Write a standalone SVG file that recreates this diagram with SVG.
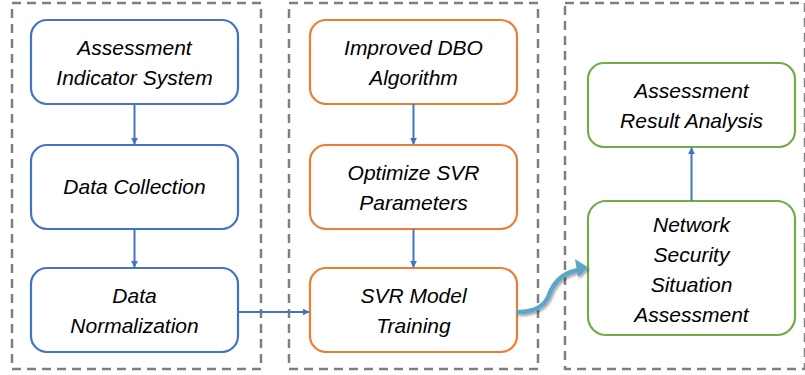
<svg xmlns="http://www.w3.org/2000/svg" width="805" height="375" viewBox="0 0 805 375">
  <style>
    .frame { fill: none; stroke: #7f7f7f; stroke-width: 2.5; stroke-dasharray: 9 6; }
    .node rect { fill: #ffffff; stroke-width: 2.2; }
    .blue rect { stroke: #4472c4; }
    .orange rect { stroke: #ed7d31; }
    .green rect { stroke: #70ad47; }
    .node text { font-family: "Liberation Sans", Arial, sans-serif; font-style: italic; font-size: 21px; fill: #000000; text-anchor: middle; }
    .link { fill: none; stroke: #4472c4; stroke-width: 2; }
    .flow { fill: none; stroke: #5ba6c9; stroke-width: 4.5; stroke-linecap: round; }
  </style>
  <defs>
    <marker id="arrow" viewBox="0 0 10 10" refX="9" refY="5" markerWidth="7" markerHeight="7" markerUnits="userSpaceOnUse" orient="auto">
      <path d="M0,0 L10,5 L0,10 Z" fill="#4472c4"/>
    </marker>
    <filter id="shadow" x="-20%" y="-20%" width="140%" height="140%">
      <feDropShadow dx="1.5" dy="2" stdDeviation="1.2" flood-color="#000000" flood-opacity="0.35"/>
    </filter>
  </defs>

  <!-- stage frames -->
  <g id="frames">
    <rect class="frame" x="12" y="3" width="249" height="366"/>
    <rect class="frame" x="289" y="3" width="249" height="366"/>
    <rect class="frame" x="565" y="3" width="240" height="366"/>
  </g>

  <!-- stage 1: data preparation -->
  <g id="indicator-system" class="node blue">
    <rect x="31" y="20" width="207" height="84" rx="16"/>
    <text x="134.5" y="55">Assessment</text>
    <text x="134.5" y="85">Indicator System</text>
  </g>
  <g id="data-collection" class="node blue">
    <rect x="31" y="145" width="207" height="84" rx="16"/>
    <text x="134.5" y="194">Data Collection</text>
  </g>
  <g id="data-normalization" class="node blue">
    <rect x="31" y="268" width="207" height="84" rx="16"/>
    <text x="134.5" y="303">Data</text>
    <text x="134.5" y="333">Normalization</text>
  </g>

  <!-- stage 2: model -->
  <g id="improved-dbo" class="node orange">
    <rect x="310" y="20" width="207" height="84" rx="16"/>
    <text x="413.5" y="55">Improved DBO</text>
    <text x="413.5" y="85">Algorithm</text>
  </g>
  <g id="optimize-svr" class="node orange">
    <rect x="310" y="145" width="207" height="84" rx="16"/>
    <text x="413.5" y="180">Optimize SVR</text>
    <text x="413.5" y="210">Parameters</text>
  </g>
  <g id="svr-training" class="node orange">
    <rect x="310" y="268" width="207" height="84" rx="16"/>
    <text x="413.5" y="303">SVR Model</text>
    <text x="413.5" y="333">Training</text>
  </g>

  <!-- stage 3: assessment -->
  <g id="result-analysis" class="node green">
    <rect x="588" y="63" width="207" height="84" rx="16"/>
    <text x="691.5" y="98">Assessment</text>
    <text x="691.5" y="128">Result Analysis</text>
  </g>
  <g id="situation-assessment" class="node green">
    <rect x="588" y="201" width="207" height="134" rx="18"/>
    <text x="691.5" y="232">Network</text>
    <text x="691.5" y="262">Security</text>
    <text x="691.5" y="292">Situation</text>
    <text x="691.5" y="322">Assessment</text>
  </g>

  <!-- connectors -->
  <g id="connectors">
    <line class="link" x1="134.5" y1="104" x2="134.5" y2="144" marker-end="url(#arrow)"/>
    <line class="link" x1="134.5" y1="229" x2="134.5" y2="267" marker-end="url(#arrow)"/>
    <line class="link" x1="413.5" y1="104" x2="413.5" y2="144" marker-end="url(#arrow)"/>
    <line class="link" x1="413.5" y1="229" x2="413.5" y2="267" marker-end="url(#arrow)"/>
    <line class="link" x1="238" y1="312" x2="309" y2="312" marker-end="url(#arrow)"/>
    <line class="link" x1="691.5" y1="201" x2="691.5" y2="148" marker-end="url(#arrow)"/>
    <g filter="url(#shadow)">
      <path class="flow" d="M518,312 C537,312 545,305 549,295 C554,281 563,273 578,270"/>
      <path d="M588,267.5 L575,259 L578,277 Z" fill="#5ba6c9"/>
    </g>
  </g>
</svg>
